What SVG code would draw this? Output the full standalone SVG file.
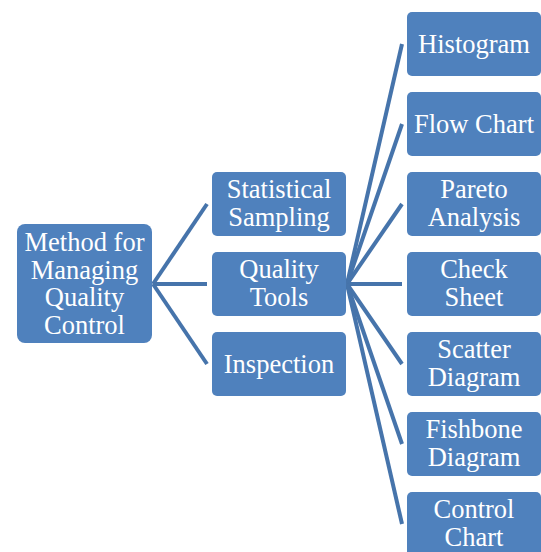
<svg xmlns="http://www.w3.org/2000/svg" width="541" height="552" viewBox="0 0 541 552">
  <style>
    .box { fill: #4f81bd; }
    .lbl { font-family: "Liberation Serif", "Times New Roman", serif; font-size: 26.5px; fill: #ffffff; text-anchor: middle; }
    .link { stroke: #4674ab; stroke-width: 4; fill: none; }
  </style>
  <rect width="541" height="552" fill="#ffffff"/>

  <!-- connectors -->
  <g id="connectors">
    <line class="link" x1="153" y1="284" x2="207" y2="204"/>
    <line class="link" x1="153" y1="284" x2="207" y2="284"/>
    <line class="link" x1="153" y1="284" x2="207" y2="364"/>

    <line class="link" x1="347" y1="284" x2="402" y2="44"/>
    <line class="link" x1="347" y1="284" x2="402" y2="124"/>
    <line class="link" x1="347" y1="284" x2="402" y2="204"/>
    <line class="link" x1="347" y1="284" x2="402" y2="284"/>
    <line class="link" x1="347" y1="284" x2="402" y2="364"/>
    <line class="link" x1="347" y1="284" x2="402" y2="444"/>
    <line class="link" x1="347" y1="284" x2="402" y2="524"/>
  </g>

  <!-- root -->
  <g id="method">
    <rect class="box" x="17" y="224" width="135" height="119" rx="8"/>
    <text class="lbl" x="84.5" y="251">Method for</text>
    <text class="lbl" x="84.5" y="278.5">Managing</text>
    <text class="lbl" x="84.5" y="306">Quality</text>
    <text class="lbl" x="84.5" y="333.5">Control</text>
  </g>

  <!-- second level -->
  <g id="sampling">
    <rect class="box" x="212" y="172" width="134" height="64" rx="5"/>
    <text class="lbl" x="279" y="198">Statistical</text>
    <text class="lbl" x="279" y="226">Sampling</text>
  </g>
  <g id="tools">
    <rect class="box" x="212" y="252" width="134" height="64" rx="5"/>
    <text class="lbl" x="279" y="278">Quality</text>
    <text class="lbl" x="279" y="306">Tools</text>
  </g>
  <g id="inspection">
    <rect class="box" x="212" y="332" width="134" height="64" rx="5"/>
    <text class="lbl" x="279" y="373">Inspection</text>
  </g>

  <!-- third level -->
  <g id="histogram">
    <rect class="box" x="407" y="12" width="134" height="64" rx="5"/>
    <text class="lbl" x="474" y="53">Histogram</text>
  </g>
  <g id="flowchart">
    <rect class="box" x="407" y="92" width="134" height="64" rx="5"/>
    <text class="lbl" x="474" y="133">Flow Chart</text>
  </g>
  <g id="pareto">
    <rect class="box" x="407" y="172" width="134" height="64" rx="5"/>
    <text class="lbl" x="474" y="198">Pareto</text>
    <text class="lbl" x="474" y="226">Analysis</text>
  </g>
  <g id="checksheet">
    <rect class="box" x="407" y="252" width="134" height="64" rx="5"/>
    <text class="lbl" x="474" y="278">Check</text>
    <text class="lbl" x="474" y="306">Sheet</text>
  </g>
  <g id="scatter">
    <rect class="box" x="407" y="332" width="134" height="64" rx="5"/>
    <text class="lbl" x="474" y="358">Scatter</text>
    <text class="lbl" x="474" y="386">Diagram</text>
  </g>
  <g id="fishbone">
    <rect class="box" x="407" y="412" width="134" height="64" rx="5"/>
    <text class="lbl" x="474" y="438">Fishbone</text>
    <text class="lbl" x="474" y="466">Diagram</text>
  </g>
  <g id="controlchart">
    <rect class="box" x="407" y="492" width="134" height="64" rx="5"/>
    <text class="lbl" x="474" y="518">Control</text>
    <text class="lbl" x="474" y="546">Chart</text>
  </g>
</svg>
